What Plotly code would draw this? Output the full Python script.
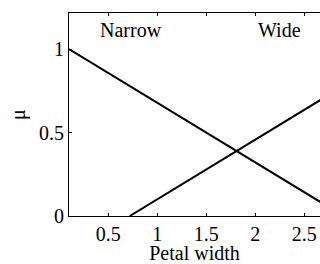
import plotly.graph_objects as go

narrow_x = [0.1, 2.9]
narrow_y = [1.0, 0.0]
wide_x = [0.72, 3.52]
wide_y = [0.0, 1.0]
x_ticks = [0.5, 1, 1.5, 2, 2.5]
x_tick_labels = ["0.5", "1", "1.5", "2", "2.5"]
y_ticks = [0, 0.5, 1]
y_tick_labels = ["0", "0.5", "1"]
labels = ["Narrow", "Wide"]
label_x = [0.735, 2.25]
label_y = [1.116, 1.116]

font = dict(family="Liberation Serif, Times New Roman, serif", size=20, color="black")

fig = go.Figure()
fig.add_trace(go.Scatter(x=narrow_x, y=narrow_y, mode="lines",
                         line=dict(color="black", width=2), showlegend=False))
fig.add_trace(go.Scatter(x=wide_x, y=wide_y, mode="lines",
                         line=dict(color="black", width=2), showlegend=False))
for t, lx, ly in zip(labels, label_x, label_y):
    fig.add_annotation(x=lx, y=ly, text=t, showarrow=False, font=font,
                       xanchor="center", yanchor="middle")

fig.update_layout(
    width=320, height=264,
    margin=dict(l=69, r=0, t=13, b=48),
    paper_bgcolor="white", plot_bgcolor="white",
    font=font,
    xaxis=dict(range=[0.1, 2.661], tickvals=x_ticks, ticktext=x_tick_labels,
               showgrid=False, zeroline=False, showline=True, linecolor="black",
               linewidth=1, mirror="ticks", ticks="inside", ticklen=3,
               tickcolor="black", title=dict(text="Petal width", standoff=0, font=font)),
    yaxis=dict(range=[0, 1.216], tickvals=y_ticks, ticktext=y_tick_labels,
               showgrid=False, zeroline=False, showline=True, linecolor="black",
               linewidth=1, ticks="inside", ticklen=3, tickcolor="black",
               title=dict(text="μ", standoff=8, font=font)),
)

fig.write_html("out.html", config={"displayModeBar": False},
               post_script="document.body.style.margin='0';document.body.style.overflow='hidden';")
